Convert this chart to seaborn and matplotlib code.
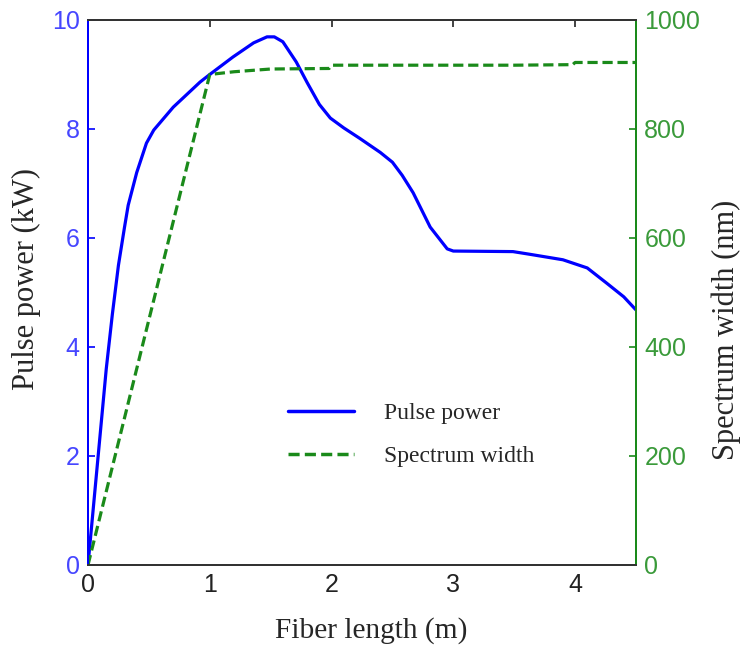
import numpy as np
import pandas as pd
import matplotlib
matplotlib.use("Agg")
import matplotlib.pyplot as plt
import seaborn as sns
from matplotlib.lines import Line2D

# Data
power_x = [0.0, 0.05, 0.1, 0.15, 0.2, 0.25, 0.3, 0.33, 0.4, 0.48, 0.54, 0.7, 0.92, 1.0,
           1.19, 1.36, 1.47, 1.53, 1.6, 1.71, 1.8, 1.9, 1.99, 2.1, 2.23, 2.4, 2.5, 2.58,
           2.67, 2.81, 2.95, 3.0, 3.49, 3.63, 3.9, 4.1, 4.26, 4.4, 4.5]
power_kw = [0.0, 1.2, 2.4, 3.6, 4.6, 5.5, 6.2, 6.6, 7.2, 7.74, 7.98, 8.4, 8.86, 9.0,
            9.32, 9.58, 9.69, 9.69, 9.6, 9.23, 8.85, 8.45, 8.2, 8.02, 7.83, 7.57, 7.39, 7.15,
            6.83, 6.2, 5.8, 5.76, 5.75, 5.7, 5.6, 5.45, 5.17, 4.92, 4.68]

width_x = [0.0, 1.0, 1.2, 1.5, 1.98, 2.0, 2.5, 3.0, 3.5, 3.98, 4.0, 4.5]
width_nm = [0.0, 900.0, 905.0, 910.0, 911.0, 917.0, 917.0, 917.0, 917.0, 918.0, 922.0, 922.0]

x_ticks = [0, 1, 2, 3, 4]
left_ticks = [0, 2, 4, 6, 8, 10]
right_ticks = [0, 200, 400, 600, 800, 1000]

power_df = pd.DataFrame({"Fiber length (m)": power_x, "Pulse power (kW)": power_kw})
width_df = pd.DataFrame({"Fiber length (m)": width_x, "Spectrum width (nm)": width_nm})

sns.set_style("white")
plt.rcParams["font.family"] = ["Liberation Sans", "DejaVu Sans"]

blue = "#0000ff"
green = "#1a8a1a"
blue_txt = "#4646ff"
green_txt = "#3a9a3a"
dash = (0, (3.2, 1.5))

fig = plt.figure(figsize=(7.42, 6.46), dpi=100)
ax = fig.add_axes([0.1186, 0.1254, 0.7385, 0.8437])
ax2 = ax.twinx()

sns.lineplot(data=power_df, x="Fiber length (m)", y="Pulse power (kW)", ax=ax,
             color=blue, linewidth=2.3, estimator=None, sort=False)
sns.lineplot(data=width_df, x="Fiber length (m)", y="Spectrum width (nm)", ax=ax2,
             color=green, linewidth=2.3, linestyle=dash, estimator=None, sort=False)

ax.set_xlim(0, 4.5)
ax.set_ylim(0, 10)
ax2.set_ylim(0, 1000)
ax.set_xticks(x_ticks)
ax.set_yticks(left_ticks)
ax2.set_yticks(right_ticks)

serif = ["Liberation Serif", "DejaVu Serif"]
ax.set_xlabel("Fiber length (m)", fontsize=21.2, family=serif, labelpad=14)
ax.set_ylabel("Pulse power (kW)", fontsize=22, family=serif, labelpad=8)
ax2.set_ylabel("Spectrum width (nm)", fontsize=22, family=serif, labelpad=8)
ax.xaxis.label.set_x(0.516)
ax.yaxis.label.set_y(0.525)
ax2.yaxis.label.set_y(0.431)

ax.tick_params(axis="x", direction="in", length=5, width=1.2, top=True, labelsize=18,
               colors="#222222", pad=6)
ax.tick_params(axis="y", direction="in", length=5, width=1.2, labelsize=18,
               colors=blue, labelcolor=blue_txt, pad=6)
ax2.tick_params(axis="y", direction="in", length=5, width=1.2, labelsize=18,
                colors=green, labelcolor=green_txt, pad=6)

for a in (ax, ax2):
    for s in a.spines.values():
        s.set_visible(True)
        s.set_linewidth(1.4)
    a.spines["top"].set_color("#333333")
    a.spines["bottom"].set_color("#333333")
    a.spines["left"].set_color(blue)
    a.spines["right"].set_color(green)

if ax.get_legend() is not None:
    ax.get_legend().remove()
if ax2.get_legend() is not None:
    ax2.get_legend().remove()

handles = [Line2D([], [], color=blue, linewidth=2.5),
           Line2D([], [], color=green, linewidth=2.5, linestyle=dash)]
ax2.legend(handles, ["Pulse power", "Spectrum width"], loc="center left",
           bbox_to_anchor=(0.326, 0.239), frameon=False,
           prop={"family": serif, "size": 17}, handlelength=2.8, handletextpad=1.25,
           labelspacing=0.9)

fig.savefig("out.png", dpi=100)
